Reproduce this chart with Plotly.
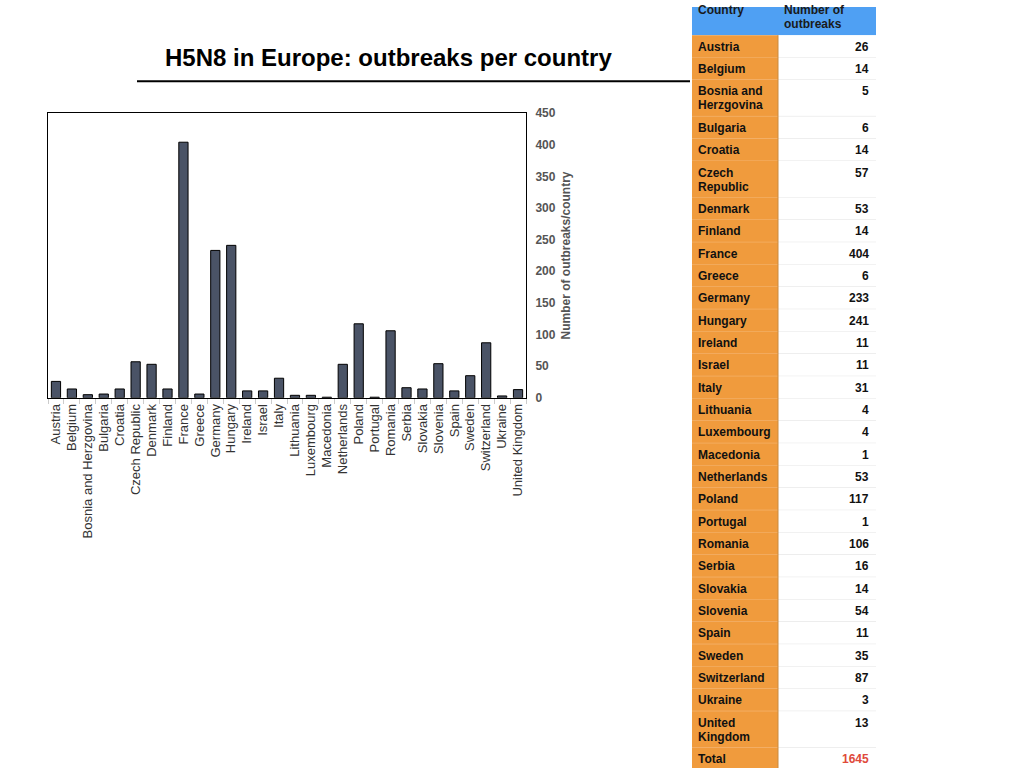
import plotly.graph_objects as go

countries = ["Austria", "Belgium", "Bosnia and Herzgovina", "Bulgaria", "Croatia",
             "Czech Republic", "Denmark", "Finland", "France", "Greece", "Germany",
             "Hungary", "Ireland", "Israel", "Italy", "Lithuania", "Luxembourg",
             "Macedonia", "Netherlands", "Poland", "Portugal", "Romania", "Serbia",
             "Slovakia", "Slovenia", "Spain", "Sweden", "Switzerland", "Ukraine",
             "United Kingdom"]
outbreaks = [26, 14, 5, 6, 14, 57, 53, 14, 404, 6, 233, 241, 11, 11, 31, 4, 4, 1,
             53, 117, 1, 106, 16, 14, 54, 11, 35, 87, 3, 13]
table_labels = ["Austria", "Belgium", "Bosnia and<br>Herzgovina", "Bulgaria", "Croatia",
                "Czech<br>Republic", "Denmark", "Finland", "France", "Greece", "Germany",
                "Hungary", "Ireland", "Israel", "Italy", "Lithuania", "Luxembourg",
                "Macedonia", "Netherlands", "Poland", "Portugal", "Romania", "Serbia",
                "Slovakia", "Slovenia", "Spain", "Sweden", "Switzerland", "Ukraine",
                "United<br>Kingdom"]
header_labels = ["Country", "Number of<br>outbreaks"]
total_label = "Total"
y_ticks = [0, 50, 100, 150, 200, 250, 300, 350, 400, 450]
title_text = "H5N8 in Europe: outbreaks per country"
y_title = "Number of outbreaks/country"

W, H = 1024, 782
FONT = "Liberation Sans, Arial, Helvetica, sans-serif"

# vertical calibration of the rendered page (screen = OFF + SC * layout px)
OFF, SC = 5.8, 0.983


def py(v):
    """paper y for a target screen y (px from top)"""
    return 1 - ((v - OFF) / SC) / H


TX0, TX1 = 692, 876
COL1_W = 86
TW = TX1 - TX0
HEADER_H = 34
ROW_H1 = 22.35
ROW_H2 = 36.6
LINE_STEP = 14
FIRST_LINE = 11.5
ORANGE = "#f09b3d"
BLUE = "#4fa0f3"

total = sum(outbreaks)
rows_left = table_labels + [total_label]
rows_right = [str(v) for v in outbreaks] + [str(total)]
right_colors = ["#111111"] * len(outbreaks) + ["#e04a3a"]

fig = go.Figure()

fig.add_trace(go.Bar(
    x=countries, y=outbreaks,
    marker=dict(color="#4a5366", line=dict(color="#000000", width=1)),
    xaxis="x", yaxis="y", showlegend=False, hoverinfo="x+y",
))

shapes = []
annotations = []

annotations.append(dict(
    text="<b>" + title_text + "</b>",
    x=388 / W, y=py(56), xref="paper", yref="paper",
    xanchor="center", yanchor="middle", showarrow=False,
    font=dict(family=FONT, size=24, color="#000000"),
))
shapes.append(dict(
    type="line", xref="paper", yref="paper",
    x0=137 / W, x1=690 / W, y0=py(80), y1=py(80),
    line=dict(color="#000000", width=2),
))


def cell_text(txt, x, y0, anchor, color, first):
    for i, part in enumerate(txt.split("<br>")):
        annotations.append(dict(
            text="<b>" + part + "</b>", x=x, y=y0 + first + i * LINE_STEP,
            xref="x2", yref="y2", xanchor=anchor, yanchor="middle",
            showarrow=False, font=dict(family=FONT, size=12, color=color),
        ))


shapes.append(dict(type="rect", xref="x2", yref="y2", x0=0, x1=TW, y0=-10, y1=HEADER_H,
                   fillcolor=BLUE, line=dict(width=0), layer="below"))
cell_text(header_labels[0], 4, 0, "left", "#1a1a1a", 9)
cell_text(header_labels[1], COL1_W + 4, 0, "left", "#1a1a1a", 9)

y = HEADER_H
for lab, val, col in zip(rows_left, rows_right, right_colors):
    h = ROW_H2 if "<br>" in lab else ROW_H1
    shapes.append(dict(type="rect", xref="x2", yref="y2", x0=0, x1=COL1_W, y0=y, y1=y + h,
                       fillcolor=ORANGE, line=dict(width=0), layer="below"))
    shapes.append(dict(type="rect", xref="x2", yref="y2", x0=COL1_W, x1=TW, y0=y, y1=y + h,
                       fillcolor="#ffffff", line=dict(width=0), layer="below"))
    shapes.append(dict(type="line", xref="x2", yref="y2", x0=0, x1=COL1_W, y0=y + h, y1=y + h,
                       line=dict(color="#f4b676", width=1), layer="below"))
    shapes.append(dict(type="line", xref="x2", yref="y2", x0=COL1_W, x1=TW, y0=y + h, y1=y + h,
                       line=dict(color="#e2e2e2", width=1), layer="below"))
    cell_text(lab, 4, y, "left", "#111111", FIRST_LINE)
    cell_text(val, TW - 5, y, "right", col, FIRST_LINE)
    y += h

shapes.append(dict(type="line", xref="x2", yref="y2", x0=COL1_W, x1=COL1_W, y0=HEADER_H, y1=y,
                   line=dict(color="#c98a40", width=1), layer="below"))

fig.update_layout(
    width=W, height=H,
    margin=dict(l=0, r=0, t=0, b=0),
    paper_bgcolor="white", plot_bgcolor="white",
    font=dict(family=FONT, size=12, color="#333333"),
    bargap=0.42,
    showlegend=False,
    xaxis=dict(
        domain=[48 / W, 526 / W],
        tickangle=-90, tickmode="array", tickvals=countries, ticktext=countries,
        showline=True, linecolor="#000000", linewidth=1, mirror=True,
        ticks="outside", tickson="boundaries", ticklen=5, tickcolor="#cccccc",
        tickfont=dict(family=FONT, size=13, color="#333333"),
        showgrid=False, fixedrange=True,
    ),
    yaxis=dict(
        domain=[py(397), py(112)],
        side="right",
        range=[0, 450],
        tickvals=y_ticks,
        showline=True, linecolor="#000000", linewidth=1, mirror=True,
        showgrid=False, zeroline=False,
        ticks="", ticklabelstandoff=6,
        tickfont=dict(family=FONT, size=12, color="#555555", weight="bold"),
        title=dict(text=y_title, standoff=6,
                   font=dict(family=FONT, size=12, color="#555555", weight="bold")),
        fixedrange=True,
    ),
    xaxis2=dict(domain=[TX0 / W, TX1 / W], range=[0, TW], visible=False,
                fixedrange=True, anchor="y2"),
    yaxis2=dict(domain=[0, 1], range=[OFF + SC * H, OFF], visible=False,
                fixedrange=True, anchor="x2"),
    annotations=annotations,
    shapes=shapes,
)

fig.write_html("out.html", config={"displayModeBar": False},
               post_script="document.body.style.margin='0';")
